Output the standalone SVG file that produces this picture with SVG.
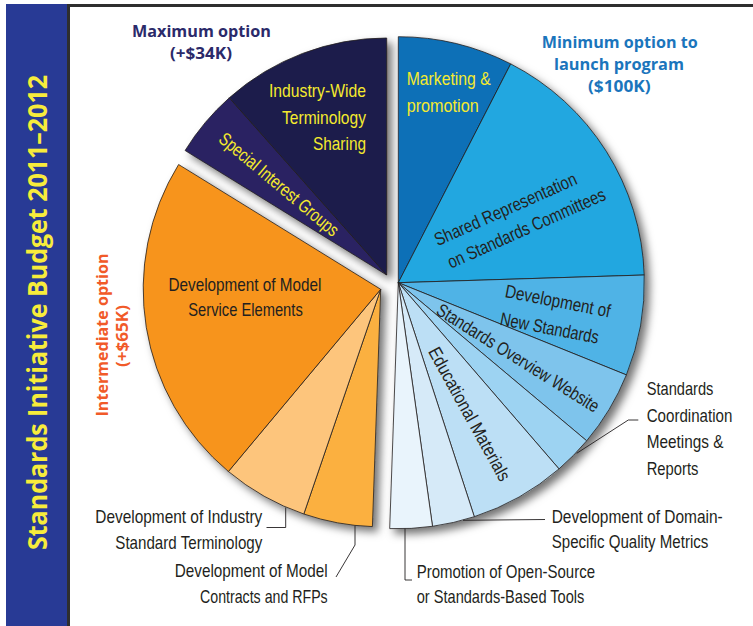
<svg xmlns="http://www.w3.org/2000/svg" width="753" height="626" viewBox="0 0 753 626">
<defs>
<filter id="sh" x="-15%" y="-15%" width="135%" height="135%">
<feDropShadow dx="5" dy="5" stdDeviation="4.5" flood-color="#000" flood-opacity="0.55"/>
</filter>
<style>
.s{stroke:#231f20;stroke-width:0.8;stroke-linejoin:round}
.lb{font-family:"Liberation Sans Narrow","Liberation Sans",Arial,sans-serif;font-size:18.5px;fill:#231f20}
.sm{font-size:17.5px}
.yl{fill:#f5ea2e}
.hd{font-family:"Open Sans","Liberation Sans",Arial,sans-serif;font-weight:bold;font-size:16.5px}
.ld{fill:none;stroke:#231f20;stroke-width:0.9}
</style>
</defs>
<rect width="753" height="626" fill="#fff"/>
<rect x="6" y="4" width="61.5" height="622" fill="#283a95"/>
<path d="M68.5,626 V5.5 H753" fill="none" stroke="#2e2e2e" stroke-width="3"/>
<text transform="translate(47.3,312.5) rotate(-90)" text-anchor="middle" font-family="'Open Sans','Liberation Sans',sans-serif" font-weight="bold" font-size="26.5" fill="#f7ec3b" textLength="475" lengthAdjust="spacingAndGlyphs">Standards Initiative Budget 2011–2012</text>

<g id="headings">
<text class="hd" x="201.5" y="36.7" text-anchor="middle" fill="#2b2a6a" textLength="139" lengthAdjust="spacingAndGlyphs">Maximum option</text>
<text class="hd" x="201" y="58.5" text-anchor="middle" fill="#2b2a6a" textLength="62" lengthAdjust="spacingAndGlyphs">(+$34K)</text>
<text class="hd" x="619.7" y="48.3" text-anchor="middle" fill="#1b75bc" textLength="156" lengthAdjust="spacingAndGlyphs">Minimum option to</text>
<text class="hd" x="619" y="69.5" text-anchor="middle" fill="#1b75bc" textLength="130" lengthAdjust="spacingAndGlyphs">launch program</text>
<text class="hd" x="619.3" y="91.5" text-anchor="middle" fill="#1b75bc" textLength="62.7" lengthAdjust="spacingAndGlyphs">($100K)</text>
<text class="hd" transform="translate(108.3,335) rotate(-90)" text-anchor="middle" fill="#f15a29" textLength="163" lengthAdjust="spacingAndGlyphs">Intermediate option</text>
<text class="hd" transform="translate(127.5,336) rotate(-90)" text-anchor="middle" fill="#f15a29" textLength="62" lengthAdjust="spacingAndGlyphs">(+$65K)</text>
</g>

<g id="max-group" filter="url(#sh)">
<path id="special-interest-groups" class="s" fill="#2a2462" d="M386.7,275 L185.1,150.5 A237,237 0 0 1 229.3,97.8 Z"/>
<path id="industry-wide-terminology" class="s" fill="#1c1c4b" d="M386.7,275 L229.3,97.8 A237,237 0 0 1 386.7,38 Z"/>
</g>
<g id="intermediate-group" filter="url(#sh)">
<path id="model-contracts" class="s" fill="#fbb03f" d="M380.7,289.3 L372.4,526.6 A237.5,237.5 0 0 1 303.8,514 Z"/>
<path id="industry-standard-terminology" class="s" fill="#fdc57b" d="M380.7,289.3 L303.8,514 A237.5,237.5 0 0 1 228.4,471.5 Z"/>
<path id="model-service-elements" class="s" fill="#f7941d" d="M380.7,289.3 L228.4,471.5 A237.5,237.5 0 0 1 178.6,164.5 Z"/>
</g>
<g id="minimum-group" filter="url(#sh)">
<path id="marketing" class="s" fill="#0f70b7" d="M398.3,282.7 L398.3,36.7 A246,246 0 0 1 510.7,63.9 Z"/>
<path id="shared-representation" class="s" fill="#22a7e0" d="M398.3,282.7 L510.7,63.9 A246,246 0 0 1 644.2,275 Z"/>
<path id="new-standards" class="s" fill="#4fb3e6" d="M398.3,282.7 L644.2,275 A246,246 0 0 1 626.4,374.9 Z"/>
<path id="overview-website" class="s" fill="#7ec4ec" d="M398.3,282.7 L626.4,374.9 A246,246 0 0 1 586.7,440.8 Z"/>
<path id="coordination-meetings" class="s" fill="#9dd3f2" d="M398.3,282.7 L586.7,440.8 A246,246 0 0 1 559,468.9 Z"/>
<path id="educational-materials" class="s" fill="#bcdff5" d="M398.3,282.7 L559,468.9 A246,246 0 0 1 474.3,516.7 Z"/>
<path id="quality-metrics" class="s" fill="#d6eaf8" d="M398.3,282.7 L474.3,516.7 A246,246 0 0 1 432.5,526.3 Z"/>
<path id="open-source-tools" class="s" fill="#e9f4fc" d="M398.3,282.7 L432.5,526.3 A246,246 0 0 1 389.7,528.6 Z"/>
</g>

<g id="slice-labels">
<text class="lb yl" x="366" y="96.7" text-anchor="end" textLength="97" lengthAdjust="spacingAndGlyphs">Industry-Wide</text>
<text class="lb yl" x="366" y="123.5" text-anchor="end" textLength="84" lengthAdjust="spacingAndGlyphs">Terminology</text>
<text class="lb yl" x="366" y="150" text-anchor="end" textLength="53" lengthAdjust="spacingAndGlyphs">Sharing</text>
<text class="lb yl" transform="translate(275,189.2) rotate(40)" text-anchor="middle" textLength="150" lengthAdjust="spacingAndGlyphs">Special Interest Groups</text>
<text class="lb yl" x="406.7" y="84.5" textLength="84" lengthAdjust="spacingAndGlyphs">Marketing &amp;</text>
<text class="lb yl" x="406.7" y="111.5" textLength="72" lengthAdjust="spacingAndGlyphs">promotion</text>
<text class="lb" transform="translate(508,215) rotate(-24)" text-anchor="middle" textLength="154" lengthAdjust="spacingAndGlyphs">Shared Representation</text>
<text class="lb" transform="translate(529,234) rotate(-24)" text-anchor="middle" textLength="171" lengthAdjust="spacingAndGlyphs">on Standards Committees</text>
<text class="lb" transform="translate(556.7,307.3) rotate(11)" text-anchor="middle" textLength="107" lengthAdjust="spacingAndGlyphs">Development of</text>
<text class="lb" transform="translate(548.3,334.2) rotate(11)" text-anchor="middle" textLength="100" lengthAdjust="spacingAndGlyphs">New Standards</text>
<text class="lb" transform="translate(514.7,363.3) rotate(32)" text-anchor="middle" textLength="188" lengthAdjust="spacingAndGlyphs">Standards Overview Website</text>
<text class="lb" transform="translate(464,417) rotate(61)" text-anchor="middle" textLength="150" lengthAdjust="spacingAndGlyphs">Educational Materials</text>
<text class="lb" x="245" y="290.7" text-anchor="middle" textLength="153" lengthAdjust="spacingAndGlyphs">Development of Model</text>
<text class="lb" x="245.5" y="315.5" text-anchor="middle" textLength="114.5" lengthAdjust="spacingAndGlyphs">Service Elements</text>
</g>

<g id="connectors">
<path class="ld" d="M266.5,527.5 H285.7 V507.5"/>
<path class="ld" d="M336,577 L355,545 V525.5"/>
<path class="ld" d="M412,580 H405 V528.6"/>
<path class="ld" d="M545,519.5 L463,520.3"/>
<path class="ld" d="M638.3,420 H628.3 L576.7,453.3"/>
</g>

<g id="external-labels">
<text class="lb" x="262.3" y="522.7" text-anchor="end" textLength="167" lengthAdjust="spacingAndGlyphs">Development of Industry</text>
<text class="lb" x="262.3" y="549" text-anchor="end" textLength="147" lengthAdjust="spacingAndGlyphs">Standard Terminology</text>
<text class="lb" x="327.7" y="576.7" text-anchor="end" textLength="153" lengthAdjust="spacingAndGlyphs">Development of Model</text>
<text class="lb" x="327.7" y="602.7" text-anchor="end" textLength="127.7" lengthAdjust="spacingAndGlyphs">Contracts and RFPs</text>
<text class="lb" x="646.7" y="395" textLength="66.7" lengthAdjust="spacingAndGlyphs">Standards</text>
<text class="lb sm" x="646.7" y="421.7" textLength="85.7" lengthAdjust="spacingAndGlyphs">Coordination</text>
<text class="lb" x="646.7" y="448.3" textLength="76.7" lengthAdjust="spacingAndGlyphs">Meetings &amp;</text>
<text class="lb" x="646.7" y="475" textLength="51.7" lengthAdjust="spacingAndGlyphs">Reports</text>
<text class="lb sm" x="551.7" y="522.7" textLength="171" lengthAdjust="spacingAndGlyphs">Development of Domain-</text>
<text class="lb sm" x="551.7" y="548.3" textLength="156.7" lengthAdjust="spacingAndGlyphs">Specific Quality Metrics</text>
<text class="lb" x="416.7" y="577.7" textLength="178.3" lengthAdjust="spacingAndGlyphs">Promotion of Open-Source</text>
<text class="lb" x="416.7" y="602.7" textLength="167.7" lengthAdjust="spacingAndGlyphs">or Standards-Based Tools</text>
</g>
</svg>
